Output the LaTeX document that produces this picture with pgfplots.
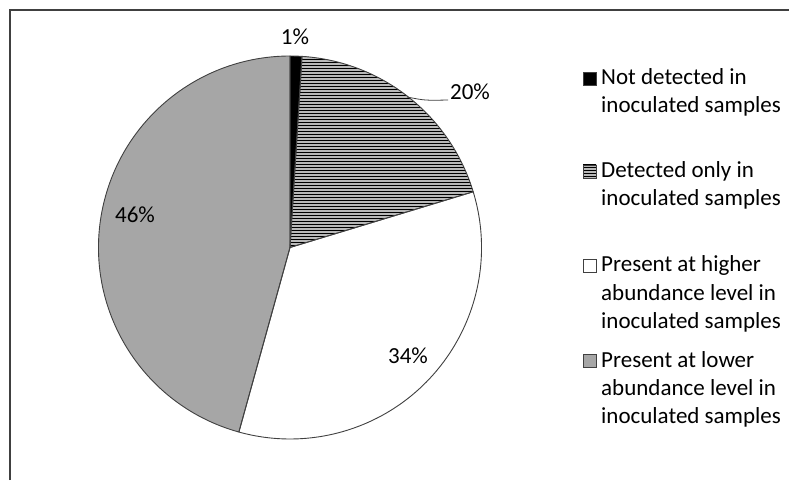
\documentclass[border=0pt]{standalone}
\usepackage{pgfplots}
\pgfplotsset{compat=1.18}
\usepackage{pgfplotstable}
\usetikzlibrary{patterns}
\usepackage{fontspec}
\setmainfont{Carlito}
\definecolor{piegray}{HTML}{A6A6A6}
\definecolor{edgec}{HTML}{404040}

\pgfplotstableread{
value
1.0
19.3
34.0
45.7
}\piedata

\begin{document}
\begin{tikzpicture}
\pgfplotstablegetelem{0}{value}\of\piedata
\pgfmathsetmacro\angA{90}
\pgfmathsetmacro\angB{\angA-3.6*\pgfplotsretval}
\pgfplotstablegetelem{1}{value}\of\piedata
\pgfmathsetmacro\angC{\angB-3.6*\pgfplotsretval}
\pgfplotstablegetelem{2}{value}\of\piedata
\pgfmathsetmacro\angD{\angC-3.6*\pgfplotsretval}
\pgfplotstablegetelem{3}{value}\of\piedata
\pgfmathsetmacro\angE{\angD-3.6*\pgfplotsretval}
\begin{axis}[
  name=ax,
  width=789pt, height=480pt, scale only axis,
  xmin=0, xmax=789, ymin=0, ymax=480,
  hide axis, clip=false,
]
% frame
\draw[edgec, line width=1.4pt] (axis cs:10,0) -- (axis cs:10,470) -- (axis cs:789,470);
% slices
\fill[black] (axis cs:290,232.5) -- ++(\angA:191.5pt) arc[start angle=\angA, end angle=\angB, radius=191.5pt] -- cycle;
\fill[gray!55] (axis cs:290,232.5) -- ++(\angB:191.5pt) arc[start angle=\angB, end angle=\angC, radius=191.5pt] -- cycle;
\fill[pattern=horizontal lines, pattern color=black] (axis cs:290,232.5) -- ++(\angB:191.5pt) arc[start angle=\angB, end angle=\angC, radius=191.5pt] -- cycle;
\fill[white] (axis cs:290,232.5) -- ++(\angC:191.5pt) arc[start angle=\angC, end angle=\angD, radius=191.5pt] -- cycle;
\fill[piegray] (axis cs:290,232.5) -- ++(\angD:191.5pt) arc[start angle=\angD, end angle=\angE, radius=191.5pt] -- cycle;
\draw[edgec, line width=0.9pt, line join=round] (axis cs:290,232.5) -- ++(\angA:191.5pt) arc[start angle=\angA, end angle=\angB, radius=191.5pt] -- cycle;
\draw[edgec, line width=0.9pt, line join=round] (axis cs:290,232.5) -- ++(\angB:191.5pt) arc[start angle=\angB, end angle=\angC, radius=191.5pt] -- cycle;
\draw[edgec, line width=0.9pt, line join=round] (axis cs:290,232.5) -- ++(\angC:191.5pt) arc[start angle=\angC, end angle=\angD, radius=191.5pt] -- cycle;
\draw[edgec, line width=0.9pt, line join=round] (axis cs:290,232.5) -- ++(\angD:191.5pt) arc[start angle=\angD, end angle=\angE, radius=191.5pt] -- cycle;
% leader line
\draw[edgec, line width=0.8pt] (axis cs:407,383) .. controls (axis cs:425,379.5) .. (axis cs:448,380);
% percentage labels
\node[anchor=base, inner sep=0pt, font=\fontsize{23}{28}\selectfont] at (axis cs:295,435) {1\%};
\node[anchor=base, inner sep=0pt, font=\fontsize{23}{28}\selectfont] at (axis cs:470,380) {20\%};
\node[anchor=base, inner sep=0pt, font=\fontsize{23}{28}\selectfont] at (axis cs:408,117) {34\%};
\node[anchor=base, inner sep=0pt, font=\fontsize{23}{28}\selectfont] at (axis cs:135,257) {46\%};
% legend markers
\filldraw[fill=black, draw=edgec, line width=0.8pt] (axis cs:583,395) rectangle (axis cs:596,408);
\fill[gray!55] (axis cs:583,302) rectangle (axis cs:596,315);
\fill[pattern=horizontal lines, pattern color=black] (axis cs:583,302) rectangle (axis cs:596,315);
\draw[edgec, line width=0.8pt] (axis cs:583,302) rectangle (axis cs:596,315);
\filldraw[fill=white, draw=edgec, line width=0.8pt] (axis cs:583,208) rectangle (axis cs:596,221);
\filldraw[fill=piegray, draw=edgec, line width=0.8pt] (axis cs:583,113) rectangle (axis cs:596,126);
% legend text
\tikzset{legtext/.style={anchor=base west, inner sep=0pt, font=\fontsize{23}{28}\selectfont}}
\node[legtext] at (axis cs:601,395) {Not detected in};
\node[legtext] at (axis cs:601,367) {inoculated samples};
\node[legtext] at (axis cs:601,302) {Detected only in};
\node[legtext] at (axis cs:601,274) {inoculated samples};
\node[legtext] at (axis cs:601,208) {Present at higher};
\node[legtext] at (axis cs:601,180) {abundance level in};
\node[legtext] at (axis cs:601,152) {inoculated samples};
\node[legtext] at (axis cs:601,113) {Present at lower};
\node[legtext] at (axis cs:601,85) {abundance level in};
\node[legtext] at (axis cs:601,57) {inoculated samples};
\end{axis}
\pgfresetboundingbox
\path[use as bounding box] (ax.south west) rectangle (ax.north east);
\end{tikzpicture}
\end{document}
